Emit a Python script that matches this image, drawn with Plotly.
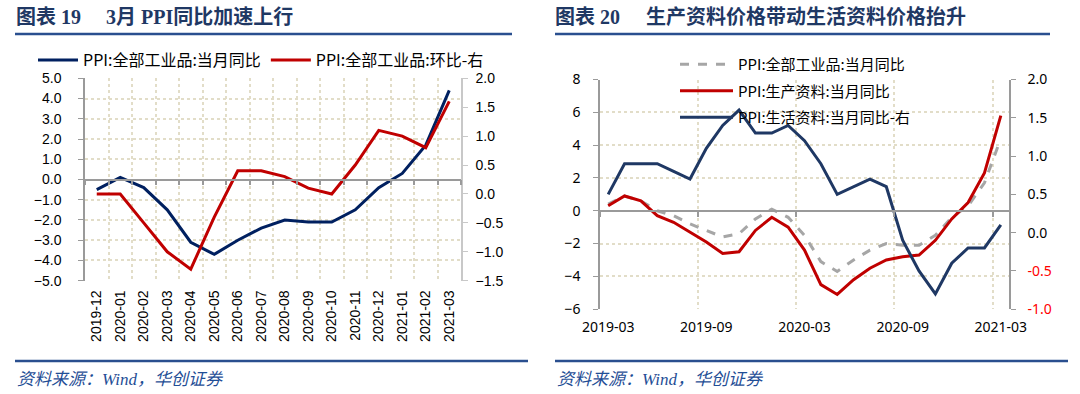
import plotly.graph_objects as go

W, H = 1080, 394

# ---------------- data: left panel ----------------
months_l = ["2019-12", "2020-01", "2020-02", "2020-03", "2020-04", "2020-05", "2020-06",
            "2020-07", "2020-08", "2020-09", "2020-10", "2020-11", "2020-12", "2021-01",
            "2021-02", "2021-03"]
ppi_yoy = [-0.5, 0.1, -0.4, -1.5, -3.1, -3.7, -3.0, -2.4, -2.0, -2.1, -2.1, -1.5, -0.4, 0.3, 1.7, 4.4]
ppi_mom = [0.0, 0.0, -0.5, -1.0, -1.3, -0.4, 0.4, 0.4, 0.3, 0.1, 0.0, 0.5, 1.1, 1.0, 0.8, 1.6]

# ---------------- data: right panel ----------------
months_r = ["2019-03", "2019-04", "2019-05", "2019-06", "2019-07", "2019-08", "2019-09",
            "2019-10", "2019-11", "2019-12", "2020-01", "2020-02", "2020-03", "2020-04",
            "2020-05", "2020-06", "2020-07", "2020-08", "2020-09", "2020-10", "2020-11",
            "2020-12", "2021-01", "2021-02", "2021-03"]
ppi_all = [0.4, 0.9, 0.6, 0.0, -0.3, -0.8, -1.2, -1.6, -1.4, -0.5, 0.1, -0.4, -1.5, -3.1,
           -3.7, -3.0, -2.4, -2.0, -2.1, -2.1, -1.5, -0.4, 0.3, 1.7, 4.4]
ppi_prod = [0.3, 0.9, 0.6, -0.3, -0.7, -1.3, -1.9, -2.6, -2.5, -1.2, -0.4, -1.0, -2.4, -4.5,
            -5.1, -4.2, -3.5, -3.0, -2.8, -2.7, -1.8, -0.5, 0.5, 2.3, 5.8]
ppi_cons = [0.5, 0.9, 0.9, 0.9, 0.8, 0.7, 1.1, 1.4, 1.6, 1.3, 1.3, 1.4, 1.2, 0.9,
            0.5, 0.6, 0.7, 0.6, -0.1, -0.5, -0.8, -0.4, -0.2, -0.2, 0.1]
label_step_r = 6  # one label every 6 months

# ---------------- text ----------------
title_l_a = "图表 19"
title_l_b = "3月 PPI同比加速上行"
title_r_a = "图表 20"
title_r_b = "生产资料价格带动生活资料价格抬升"
source = "资料来源：<i>Wind</i>，华创证券"
name_l1 = "PPI:全部工业品:当月同比"
name_l2 = "PPI:全部工业品:环比-右"
name_r1 = "PPI:全部工业品:当月同比"
name_r2 = "PPI:生产资料:当月同比"
name_r3 = "PPI:生活资料:当月同比-右"

# ---------------- styles ----------------
NAVY_L = "#002060"
NAVY_R = "#1f3864"
RED = "#c00000"
GRAY = "#a6a6a6"
GRID = "#e2ddc8"
AXIS = "#9a9a9a"
TITLE_C = "#1f3864"
RULE_C = "#2a4f8f"
CJK = "Noto Sans CJK SC"
SANS = "Liberation Sans, Noto Sans CJK SC"

def px(x):
    return x / W

def py(y):
    return 1 - y / H

# plot areas (paper fractions)
LX = [px(85), px(461)]
LY = [py(280.7), py(78.3)]
RX = [px(600), px(1009)]
RY = [py(309.2), py(79.5)]

yl_range = [-5, 5]
yl2_range = [-1.5, 2.0]
yr_range = [-6, 8]
yr2_range = [-1.0, 2.0]

zero_l = LY[0] + (0 - yl_range[0]) / (yl_range[1] - yl_range[0]) * (LY[1] - LY[0])
zero_r = RY[0] + (0 - yr_range[0]) / (yr_range[1] - yr_range[0]) * (RY[1] - RY[0])

fig = go.Figure()

# left panel
fig.add_trace(go.Scatter(x=months_l, y=ppi_yoy, name=name_l1, mode="lines",
                         line=dict(color=NAVY_L, width=3), xaxis="x", yaxis="y",
                         legend="legend"))
fig.add_trace(go.Scatter(x=months_l, y=ppi_mom, name=name_l2, mode="lines",
                         line=dict(color=RED, width=3), xaxis="x3", yaxis="y2",
                         legend="legend"))

# right panel
fig.add_trace(go.Scatter(x=months_r, y=ppi_all, name=name_r1, mode="lines",
                         line=dict(color=GRAY, width=3, dash="dash"), xaxis="x2", yaxis="y3",
                         legend="legend2", legendgroup="a"))
fig.add_trace(go.Scatter(x=months_r, y=ppi_prod, name=name_r2, mode="lines",
                         line=dict(color=RED, width=3), xaxis="x2", yaxis="y3",
                         legend="legend2", legendgroup="b"))
fig.add_trace(go.Scatter(x=months_r, y=ppi_cons, name=name_r3, mode="lines",
                         line=dict(color=NAVY_R, width=3), xaxis="x4", yaxis="y4",
                         legend="legend2", legendgroup="c"))

grid = dict(showgrid=True, gridcolor=GRID, griddash="dot", gridwidth=2)

fig.update_layout(
    width=W, height=H, autosize=False,
    margin=dict(l=0, r=0, t=0, b=0, pad=0),
    paper_bgcolor="white", plot_bgcolor="white",
    showlegend=True,
    # ---- left panel axes
    xaxis=dict(domain=LX, anchor="y", type="category", categoryorder="array",
               categoryarray=months_l, range=[-0.5, len(months_l) - 0.5],
               tickson="boundaries", ticks="", showline=False, tickangle=-90,
               tickfont=dict(family=SANS, size=14, color="black"),
               ticklabelstandoff=6, automargin=False, **grid),
    xaxis3=dict(domain=LX, overlaying="x", anchor="free", position=zero_l,
                type="category", categoryorder="array", categoryarray=months_l,
                range=[-0.5, len(months_l) - 0.5], tickson="boundaries",
                ticks="outside", ticklen=5, tickcolor=AXIS, tickwidth=1.5,
                showline=True, linecolor=AXIS, linewidth=1.5,
                showticklabels=False, showgrid=False, automargin=False),
    yaxis=dict(domain=LY, anchor="x", range=yl_range, dtick=1, tickformat=".1f",
               showline=True, linecolor=AXIS, linewidth=1.5, ticks="outside",
               ticklen=5, tickcolor=AXIS, zeroline=False,
               tickfont=dict(family=SANS, size=14, color="black"),
               ticklabelstandoff=14, automargin=False, **grid),
    yaxis2=dict(domain=LY, overlaying="y", side="right", anchor="x", range=yl2_range,
                dtick=0.5, tickformat=".1f", showline=True, linecolor="#c8c8c8",
                linewidth=1.5, ticks="outside", ticklen=5, tickcolor="#c8c8c8",
                zeroline=False, showgrid=False, automargin=False,
                tickfont=dict(family=SANS, size=14, color="black"),
                ticklabelstandoff=5),
    # ---- right panel axes
    xaxis2=dict(domain=RX, anchor="y3", type="category", categoryorder="array",
                categoryarray=months_r, range=[-0.5, len(months_r) - 0.5],
                tickmode="linear", tick0=0, dtick=label_step_r, tickson="boundaries",
                ticks="", showline=False, tickangle=0, automargin=False,
                tickfont=dict(family="Noto Sans", size=14, color="black"),
                ticklabelstandoff=8, **grid),
    xaxis4=dict(domain=RX, overlaying="x2", anchor="free", position=zero_r,
                type="category", categoryorder="array", categoryarray=months_r,
                range=[-0.5, len(months_r) - 0.5], tickmode="linear", tick0=0,
                dtick=label_step_r, tickson="boundaries", ticks="outside", ticklen=5,
                tickcolor=AXIS, tickwidth=1.5, showline=True, linecolor=AXIS,
                linewidth=1.5, showticklabels=False, showgrid=False, automargin=False),
    yaxis3=dict(domain=RY, anchor="x2", range=yr_range, dtick=2,
                showline=True, linecolor=AXIS, linewidth=1.5, ticks="outside",
                ticklen=5, tickcolor=AXIS, zeroline=False, automargin=False,
                tickfont=dict(family="Noto Sans", size=14, color="black"),
                ticklabelstandoff=10, **grid),
    yaxis4=dict(domain=RY, overlaying="y3", side="right", anchor="x2", range=yr2_range,
                tickmode="array",
                tickvals=[2.0, 1.5, 1.0, 0.5, 0.0, -0.5, -1.0],
                ticktext=["2.0", "1.5", "1.0", "0.5", "0.0",
                          "<span style='color:#ff0000'>-0.5</span>",
                          "<span style='color:#ff0000'>-1.0</span>"],
                showline=True, linecolor=AXIS, linewidth=1.5, ticks="outside",
                ticklen=5, tickcolor=AXIS, zeroline=False, showgrid=False,
                automargin=False,
                tickfont=dict(family="Noto Sans", size=14, color="black"),
                ticklabelstandoff=9),
    legend=dict(orientation="h", x=px(33), y=py(60), xanchor="left", yanchor="middle",
                bgcolor="rgba(0,0,0,0)", font=dict(family=CJK, size=16, color="black"),
                itemwidth=40, tracegroupgap=0),
    legend2=dict(orientation="v", x=px(675), y=py(48), xanchor="left", yanchor="top",
                 bgcolor="rgba(0,0,0,0)", font=dict(family=CJK, size=15, color="black"),
                 itemwidth=53, tracegroupgap=4, traceorder="grouped"),
)

annos = [
    dict(x=px(14), y=py(17), text="<b>" + title_l_a + "</b>"),
    dict(x=px(104), y=py(17), text="<b>" + title_l_b + "</b>"),
    dict(x=px(553), y=py(17), text="<b>" + title_r_a + "</b>"),
    dict(x=px(644), y=py(17), text="<b>" + title_r_b + "</b>"),
]
for a in annos:
    fig.add_annotation(xref="paper", yref="paper", xanchor="left", yanchor="middle",
                       showarrow=False, x=a["x"], y=a["y"], text=a["text"],
                       font=dict(family="Liberation Serif, Noto Sans CJK SC", size=20,
                                 color=TITLE_C))
for sx in (15, 555):
    fig.add_annotation(xref="paper", yref="paper", xanchor="left", yanchor="middle",
                       showarrow=False, x=px(sx), y=py(379), text="<i>" + source + "</i>",
                       font=dict(family="Liberation Serif, Noto Sans CJK SC", size=17,
                                 color="#1f4e96"))

rules = [(15, 512, 34), (555, 1050, 34), (15, 528, 361), (555, 1068, 361)]
for x0, x1, yy in rules:
    fig.add_shape(type="line", xref="paper", yref="paper", x0=px(x0), x1=px(x1),
                  y0=py(yy), y1=py(yy), line=dict(color=RULE_C, width=2.5))

# page body without the default 8px browser margin; no modebar
fig.write_html("out.html", config={"displayModeBar": False},
               post_script="document.body.style.margin='0';document.body.style.overflow='hidden';")
